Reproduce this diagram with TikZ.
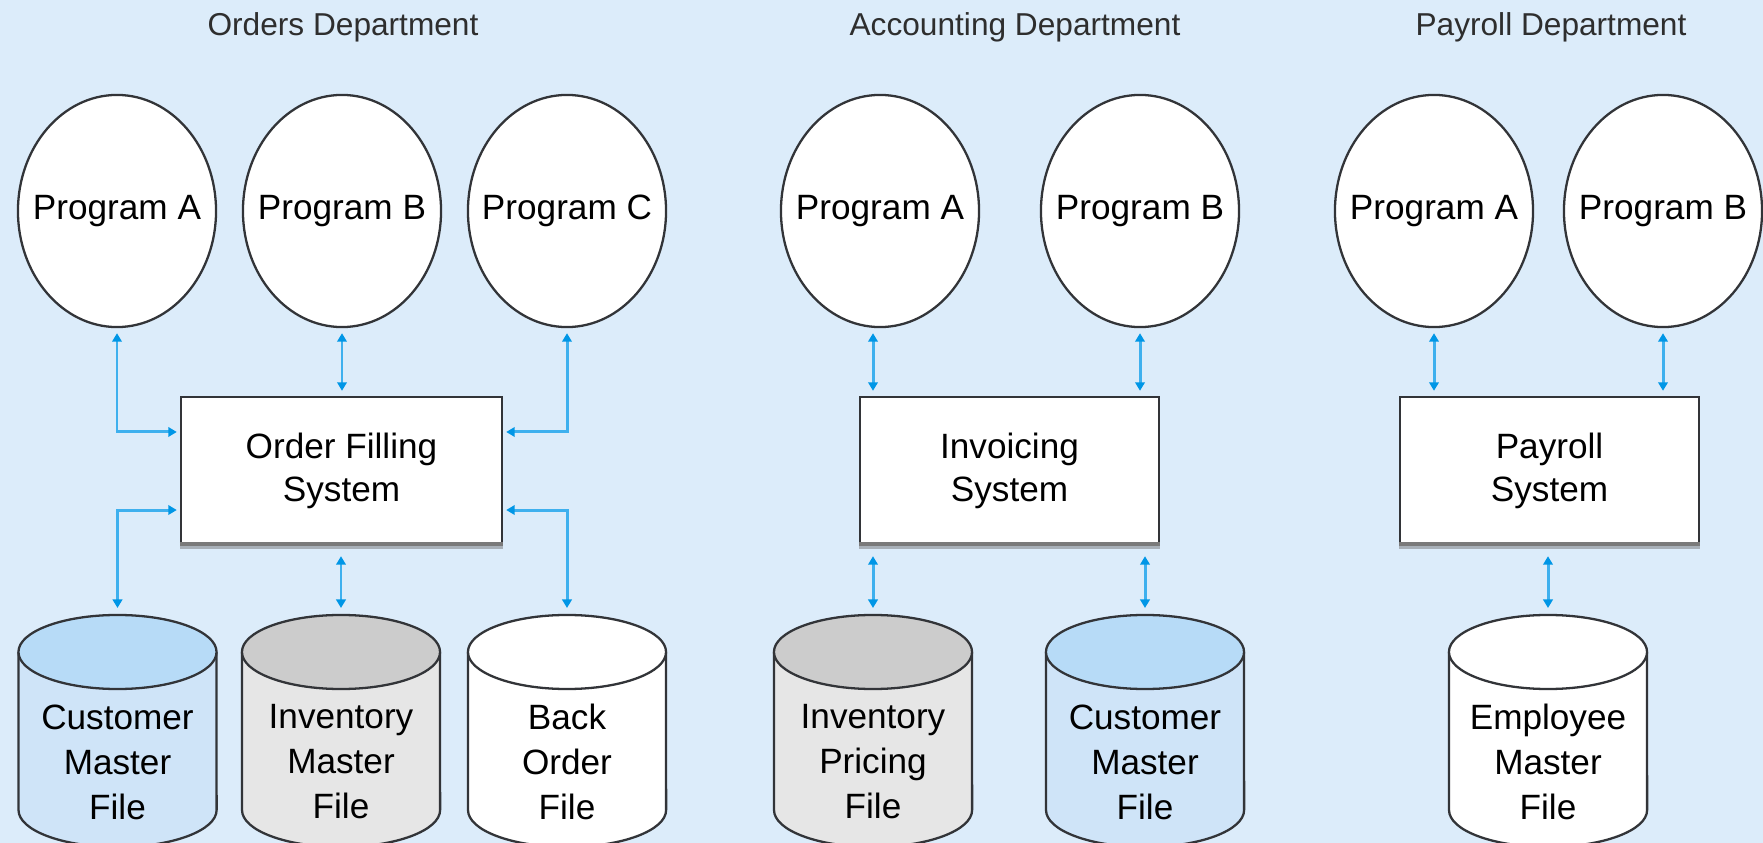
\documentclass[tikz,border=0pt]{standalone}
\usepackage{fontspec}
\setmainfont{Liberation Sans}
\usetikzlibrary{arrows.meta,shapes.geometric,calc}
\definecolor{bgblue}{RGB}{220,236,250}
\definecolor{linkblue}{RGB}{62,176,238}
\definecolor{tipblue}{RGB}{0,150,230}
\definecolor{edgegray}{RGB}{50,52,56}
\definecolor{shadowgray}{RGB}{122,122,122}
\definecolor{shadowlight}{RGB}{168,176,184}
\definecolor{blueTop}{RGB}{183,219,247}
\definecolor{blueBody}{RGB}{207,228,248}
\definecolor{grayTop}{RGB}{204,204,204}
\definecolor{grayBody}{RGB}{230,230,230}
\tikzset{
  prog/.style={ellipse, draw=edgegray, line width=0.65pt, fill=white,
    minimum width=1.98cm, minimum height=2.32cm, inner sep=0pt},
  progtext/.style={inner sep=0pt, font=\fontsize{10}{12}\selectfont},
  sysbox/.style={rectangle, draw=edgegray, line width=0.65pt, fill=white,
    minimum height=1.48cm, inner sep=0pt, align=center,
    font=\fontsize{10}{12.2}\selectfont},
  dept/.style={inner sep=0pt, font=\fontsize{9}{11}\selectfont, text=black!82},
  filetext/.style={inner sep=0pt, align=center, font=\fontsize{10}{12.8}\selectfont},
  link/.style={draw=linkblue, line width=0.85pt,
    {Triangle[width=0.095cm,length=0.085cm,color=tipblue]}-{Triangle[width=0.095cm,length=0.085cm,color=tipblue]},
    shorten <=0.05cm, shorten >=0.05cm},
  lowlink/.style={link, shorten <=0.1cm, shorten >=0.07cm},
  sidelink/.style={link, shorten <=0.03cm, shorten >=0.07cm},
}
\newcommand{\dbfile}[5]{%
  \filldraw[fill=#3, draw=edgegray, line width=0.65pt]
    (#2-99,652) -- (#2-99,810)
    arc[start angle=180, end angle=360, x radius=0.99cm, y radius=0.37cm]
    -- (#2+99,652);
  \filldraw[fill=#4, draw=edgegray, line width=0.65pt]
    (#2,652) ellipse [x radius=0.99cm, y radius=0.37cm];
  \coordinate (#1-top) at (#2,615);
  \node[filetext] (#1) at (#2,762) {#5};
}
\newcommand{\boxshade}[1]{%
  \draw[line width=0.035cm, shadowgray] ([yshift=0.02cm]#1.south west) -- ([yshift=0.02cm]#1.south east);
  \draw[line width=0.03cm, shadowlight] ([yshift=-0.012cm]#1.south west) -- ([yshift=-0.012cm]#1.south east);
}
\begin{document}
\begin{tikzpicture}[x=0.01cm, y=-0.01cm]
\fill[bgblue] (0,0) rectangle (1763,843);
\useasboundingbox (0,0) rectangle (1763,843);

% department titles
\node[dept] (t1) at (343,27) {Orders Department};
\node[dept] (t2) at (1015,27) {Accounting Department};
\node[dept] (t3) at (1551,27) {Payroll Department};

% programs
\node[prog] (oa) at (117,211) {};
\node[progtext] (oa-t) at (oa) {Program A};
\node[prog] (ob) at (342,211) {};
\node[progtext] (ob-t) at (ob) {Program B};
\node[prog] (oc) at (567,211) {};
\node[progtext] (oc-t) at (oc) {Program C};
\node[prog] (aa) at (880,211) {};
\node[progtext] (aa-t) at (aa) {Program A};
\node[prog] (ab) at (1140,211) {};
\node[progtext] (ab-t) at (ab) {Program B};
\node[prog] (pa) at (1434,211) {};
\node[progtext] (pa-t) at (pa) {Program A};
\node[prog] (pb) at (1663,211) {};
\node[progtext] (pb-t) at (pb) {Program B};

% systems
\node[sysbox, minimum width=3.21cm] (ofs) at (341.5,471) {Order Filling\\System};
\node[sysbox, minimum width=2.99cm] (inv) at (1009.5,471) {Invoicing\\System};
\node[sysbox, minimum width=2.99cm] (pay) at (1549.5,471) {Payroll\\System};
\boxshade{ofs}
\boxshade{inv}
\boxshade{pay}

% files
\dbfile{cmf}{117.5}{blueBody}{blueTop}{Customer\\Master\\File}
\dbfile{imf}{341}{grayBody}{grayTop}{Inventory\\Master\\File}
\dbfile{bof}{567}{white}{white}{Back\\Order\\File}
\dbfile{ipf}{873}{grayBody}{grayTop}{Inventory\\Pricing\\File}
\dbfile{acm}{1145}{blueBody}{blueTop}{Customer\\Master\\File}
\dbfile{emf}{1548}{white}{white}{Employee\\Master\\File}

% connectors: Orders
\draw[link, shorten >=0.03cm] (oa.south) |- ([yshift=0.39cm]ofs.west);
\draw[link] (ob.south) -- (ob.south |- ofs.north);
\draw[link, shorten >=0.03cm] (oc.south) |- ([yshift=0.39cm]ofs.east);
\draw[sidelink] ([yshift=-0.39cm]ofs.west) -| (cmf-top);
\draw[lowlink] (ofs.south -| imf-top) -- (imf-top);
\draw[sidelink] ([yshift=-0.39cm]ofs.east) -| (bof-top);

% connectors: Accounting
\draw[link] (aa.south -| ipf-top) -- (inv.north -| ipf-top);
\draw[link] (ab.south) -- (ab.south |- inv.north);
\draw[lowlink] (inv.south -| ipf-top) -- (ipf-top);
\draw[lowlink] (inv.south -| acm-top) -- (acm-top);

% connectors: Payroll
\draw[link] (pa.south) -- (pa.south |- pay.north);
\draw[link] (pb.south) -- (pb.south |- pay.north);
\draw[lowlink] (pay.south -| emf-top) -- (emf-top);
\end{tikzpicture}
\end{document}
